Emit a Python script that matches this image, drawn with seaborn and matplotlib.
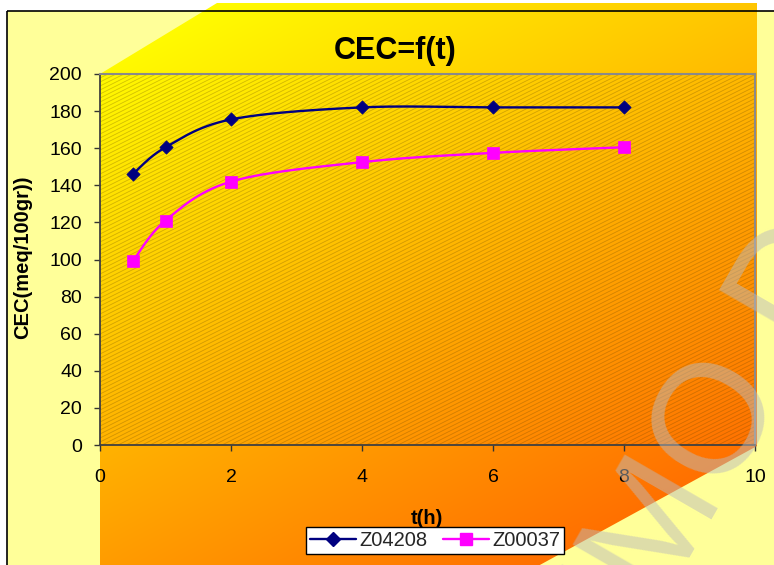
import numpy as np
import matplotlib
matplotlib.use("Agg")
import matplotlib.pyplot as plt
import seaborn as sns
from matplotlib.patches import Polygon, Rectangle
from matplotlib.lines import Line2D
from matplotlib.collections import LineCollection

# ---------------- data ----------------
t_hours = [0.5, 1, 2, 4, 6, 8]
z04208 = [146, 160.5, 175.5, 182, 182, 182]
z00037 = [99, 121, 142, 152.5, 157.5, 160.5]
series_names = ["Z04208", "Z00037"]
x_ticks = [0, 2, 4, 6, 8, 10]
y_ticks = [0, 20, 40, 60, 80, 100, 120, 140, 160, 180, 200]
title_text = "CEC=f(t)"
x_label = "t(h)"
y_label = "CEC(meq/100gr))"
watermark = "DEMO DEMO"

sns.set_theme(style="white")
plt.rcParams["font.family"] = ["Liberation Sans", "DejaVu Sans"]

W, H = 774, 565
fig = plt.figure(figsize=(W / 100, H / 100), dpi=100)
fig.patch.set_facecolor("white")

# ---------------- background (pixel coordinates) ----------------
bg = fig.add_axes([0, 0, 1, 1], zorder=0)
bg.axis("off")
bg.add_patch(Rectangle((7, 11), W + 20, H + 20, facecolor="#FFFF99", edgecolor="none", zorder=0))
poly = Polygon([(217, 3), (757, 3), (757, 446), (538, 566), (100, 566), (100, 74)],
               closed=True, facecolor="none", edgecolor="none")
bg.add_patch(poly)
yy, xx = np.mgrid[0:H, 0:W] + 0.5
s = 0.38 * (xx - 100) / 657 + 0.62 * (yy - 3) / 562
drop = np.clip((s - 0.05) * 1.12, 0, 1)
img = np.zeros((H, W, 3))
img[..., 0] = 1.0
img[..., 1] = (255 - 155 * drop) / 255
img[..., 2] = 0.0
im = bg.imshow(img, extent=(0, W, H, 0), interpolation="bilinear", aspect="auto", zorder=1)
im.set_clip_path(poly)

# hatch in plot area
px0, py0, pw, ph = 100, 74, 655, 371
clip_rect = Rectangle((px0, py0), pw, ph, transform=bg.transData, facecolor="none", edgecolor="none")
bg.add_patch(clip_rect)
segs = []
slope = 0.5
for c in np.arange(py0, py0 + ph + slope * pw + 4, 4.0):
    segs.append([(px0, c), (px0 + pw, c - slope * pw)])
lc = LineCollection(segs, colors="#5a4000", linewidths=0.6, alpha=0.28, zorder=2)
bg.add_collection(lc)
lc.set_clip_path(clip_rect)

# frame edge
bg.add_patch(Rectangle((7, 11), W + 20, H + 20, fill=False, edgecolor="black", lw=1.2, zorder=3))
bg.set_xlim(0, W)
bg.set_ylim(H, 0)

# ---------------- main axes ----------------
ax = fig.add_axes([px0 / W, 1 - (py0 + ph) / H, pw / W, ph / H], zorder=1)
ax.patch.set_visible(False)


def smooth(xs, ys, sx=65.5, sy=1.86, n=30):
    P = np.column_stack([np.array(xs) * sx, np.array(ys) * sy])
    out = []
    for i in range(len(P) - 1):
        p0 = P[i - 1] if i > 0 else P[i]
        p1, p2 = P[i], P[i + 1]
        p3 = P[i + 2] if i + 2 < len(P) else P[i + 1]
        b1 = p1 + (p2 - p0) / 6
        b2 = p2 - (p3 - p1) / 6
        tt = np.linspace(0, 1, n)[:, None]
        seg = (1 - tt) ** 3 * p1 + 3 * (1 - tt) ** 2 * tt * b1 + 3 * (1 - tt) * tt ** 2 * b2 + tt ** 3 * p2
        out.append(seg if i == 0 else seg[1:])
    out = np.vstack(out)
    return out[:, 0] / sx, out[:, 1] / sy


colors = ["#000080", "#FF00FF"]
markers = ["D", "s"]
sizes = [46, 72]
for vals, col, mk, sz in zip([z04208, z00037], colors, markers, sizes):
    sxv, syv = smooth(t_hours, vals)
    sns.lineplot(x=sxv, y=syv, ax=ax, color=col, lw=1.7, sort=False, estimator=None, zorder=3)
    sns.scatterplot(x=t_hours, y=vals, ax=ax, marker=mk, s=sz, color=col, edgecolor=col,
                    linewidth=0.5, zorder=4)

ax.set_xlim(0, 10)
ax.set_ylim(0, 200)
ax.set_xticks(x_ticks)
ax.set_yticks(y_ticks)
ax.set_xticklabels([str(v) for v in x_ticks])
ax.set_yticklabels([str(v) for v in y_ticks])
ax.tick_params(axis="both", direction="out", length=4.5, width=1, color="#333333",
               labelsize=14, labelcolor="black", left=True, bottom=True)
ax.tick_params(axis="y", pad=8.5)
ax.tick_params(axis="x", pad=13)
for side in ["left", "bottom"]:
    ax.spines[side].set_color("#404040")
    ax.spines[side].set_linewidth(1.3)
for side in ["top", "right"]:
    ax.spines[side].set_color("#8a8a8a")
    ax.spines[side].set_linewidth(1.5)
ax.set_xlabel("")
ax.set_ylabel("")

# ---------------- texts ----------------
fig.text(395 / W, 1 - 51 / H, title_text, ha="center", va="center", fontsize=22,
         fontweight="bold", color="black")
fig.text(427 / W, 1 - 518 / H, x_label, ha="center", va="center", fontsize=14.5,
         fontweight="bold", color="black")
fig.text(23 / W, 1 - 257 / H, y_label, ha="center", va="center", rotation=90, fontsize=14.5,
         fontweight="bold", color="black")

handles = [Line2D([], [], color=colors[0], lw=1.7, marker="D", markersize=7),
           Line2D([], [], color=colors[1], lw=1.7, marker="s", markersize=8)]
leg = fig.legend(handles, series_names, loc="center", bbox_to_anchor=(435 / W, 1 - 540.5 / H),
                 ncol=2, frameon=True, fancybox=False, edgecolor="black", facecolor="white",
                 framealpha=1, fontsize=14.5, handlelength=2.3, handletextpad=0.15,
                 columnspacing=0.8, borderpad=0.2)
leg.get_frame().set_linewidth(1.0)
leg.set_zorder(5)

# watermark
fig.text(552, 796, watermark, transform=bg.transData, rotation=60, rotation_mode="anchor",
         ha="left", va="baseline", fontsize=112, color="#BDBBBB", alpha=0.5, zorder=10)

fig.savefig("out.png", dpi=100)
